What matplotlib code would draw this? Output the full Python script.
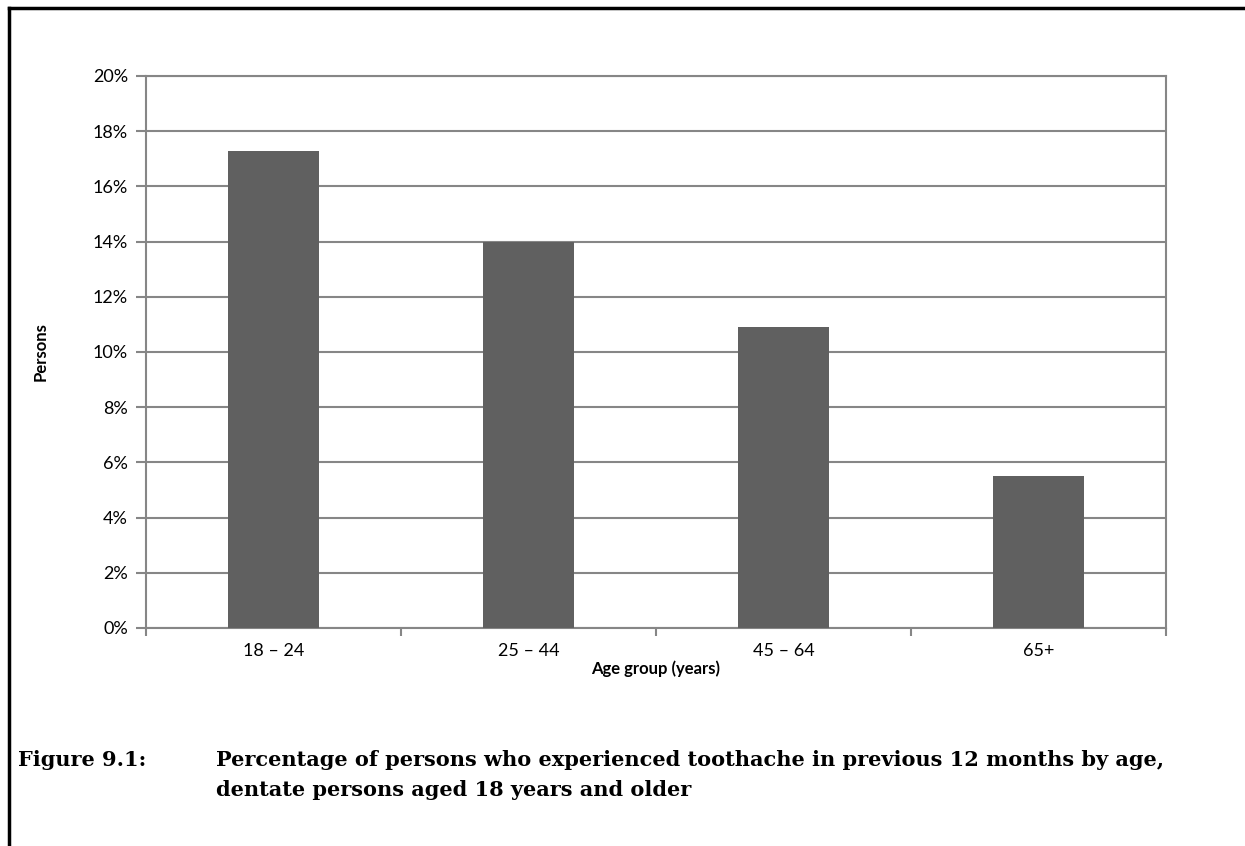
import matplotlib

matplotlib.use("Agg")
import matplotlib.pyplot as plt
from matplotlib.ticker import FixedLocator, FuncFormatter

age_groups = ["18 \u2013 24", "25 \u2013 44", "45 \u2013 64", "65+"]
toothache_pct = [17.3, 14.0, 10.9, 5.5]
y_ticks = [0, 2, 4, 6, 8, 10, 12, 14, 16, 18, 20]

caption_label = "Figure 9.1:"
caption_lines = [
    "Percentage of persons who experienced toothache in previous 12 months by age,",
    "dentate persons aged 18 years and older",
]

GRID = "#868686"
BAR = "#606060"
SANS = ["Lato", "DejaVu Sans"]
SERIF = ["DejaVu Serif"]

fig = plt.figure(figsize=(12.45, 8.46), dpi=100)
ax = fig.add_axes([146 / 1245, 1 - 628 / 846, 1020 / 1245, 552 / 846])

xs = list(range(1, len(age_groups) + 1))
ax.bar(xs, toothache_pct, width=0.357, color=BAR, zorder=3)

ax.set_xlim(0.5, len(age_groups) + 0.5)
ax.set_ylim(0, 20)
ax.set_yticks(y_ticks)
ax.yaxis.set_major_formatter(FuncFormatter(lambda v, _: f"{v:.0f}%"))
ax.yaxis.grid(True, color=GRID, linewidth=1.5, zorder=0)

# boundary ticks between categories, labels centred under the bars
ax.xaxis.set_major_locator(FixedLocator([x + 0.5 for x in range(0, len(age_groups) + 1)]))
ax.xaxis.set_major_formatter(FuncFormatter(lambda v, _: ""))
ax.xaxis.set_minor_locator(FixedLocator(xs))
ax.set_xticklabels(age_groups, minor=True)
ax.tick_params(axis="x", which="major", direction="out", length=6, width=1.5, color=GRID)
ax.tick_params(axis="x", which="minor", length=0, pad=11, labelsize=13)
ax.tick_params(axis="y", direction="out", length=7, width=1.5, color=GRID, pad=6, labelsize=13)

for lbl in ax.get_xticklabels(minor=True) + ax.get_yticklabels():
    lbl.set_family(SANS)

for side in ("left", "right", "top", "bottom"):
    ax.spines[side].set_color(GRID)
    ax.spines[side].set_linewidth(1.5)

ax.set_xlabel("Age group (years)", family=SANS, fontsize=12, fontweight="bold", labelpad=1)
ax.set_ylabel("Persons", family=SANS, fontsize=12, fontweight="bold", labelpad=32)

# caption below the chart
fig.text(18 / 1245, 1 - 760 / 846, caption_label, family=SERIF, fontsize=15,
         fontweight="bold", va="center", ha="left")
for i, line in enumerate(caption_lines):
    fig.text(216 / 1245, 1 - (760 + 30 * i) / 846, line, family=SERIF, fontsize=15,
             fontweight="bold", va="center", ha="left")

# frame around the figure (top and left edges visible)
fig.add_artist(plt.Line2D([9 / 1245, 1], [1 - 8 / 846, 1 - 8 / 846], color="black", linewidth=2.5))
fig.add_artist(plt.Line2D([9 / 1245, 9 / 1245], [0, 1 - 8 / 846], color="black", linewidth=2.5))

fig.savefig("out.png", dpi=100)
